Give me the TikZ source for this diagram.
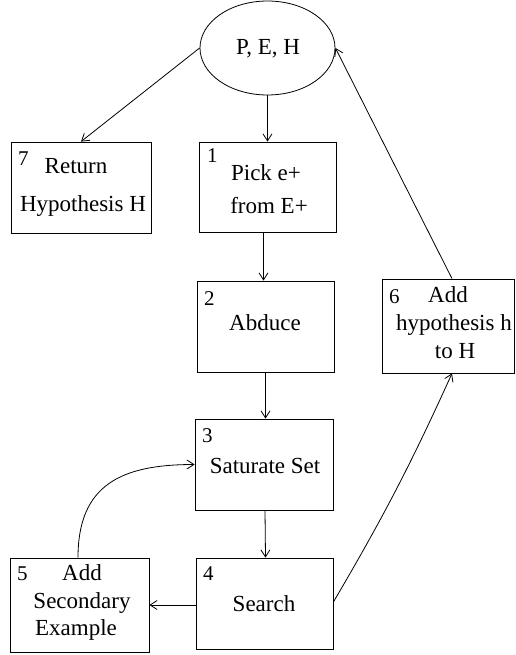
\documentclass[tikz,border=0pt]{standalone}
\usepackage{fontspec}
\setmainfont{Liberation Serif}
\usetikzlibrary{shapes.geometric,arrows.meta}
\tikzset{
  box/.style={draw, line width=0.8pt, inner sep=0pt, minimum width=#1},
  box/.default=137pt,
  txt/.style={anchor=base, inner sep=0pt, font=\fontsize{23}{27}\selectfont},
  num/.style={anchor=base west, inner sep=0pt, font=\fontsize{21}{25}\selectfont},
  conn/.style={line width=0.8pt, -{Straight Barb[length=7pt,width=9pt]}}
}
\begin{document}
\begin{tikzpicture}[x=1pt,y=-1pt]
\useasboundingbox (0,0) rectangle (515,655);
% shapes
\node[ellipse, draw, line width=0.8pt, minimum width=135pt, minimum height=94pt, inner sep=0pt] (e) at (267.5,48) {};
\node[box=140pt, minimum height=91pt] (b7) at (81,187.5) {};
\node[box=137pt, minimum height=90pt] (b1) at (267.5,187) {};
\node[box=137pt, minimum height=91pt] (b2) at (265.5,326.5) {};
\node[box=132pt, minimum height=94pt] (b6) at (448,326) {};
\node[box=138pt, minimum height=91pt] (b3) at (264,464.5) {};
\node[box=137pt, minimum height=91pt] (b4) at (264.5,603.5) {};
\node[box=139pt, minimum height=94pt] (b5) at (79.5,605) {};
% texts
\node[txt] (te) at (268,55) {P, E, H};
\node[num] (n7) at (18,165) {7};
\node[txt] (t7a) at (76,174) {Return};
\node[txt] (t7b) at (83,211) {Hypothesis H};
\node[num] (n1) at (207,163) {1};
\node[txt] (t1a) at (266,180) {Pick e+};
\node[txt] (t1b) at (269,213) {from E+};
\node[num] (n2) at (204,305) {2};
\node[txt] (t2) at (265,330) {Abduce};
\node[num] (n6) at (389,303) {6};
\node[txt] (t6a) at (448,302) {Add};
\node[txt] (t6b) at (454,330) {hypothesis h};
\node[txt] (t6c) at (455,358) {to H};
\node[num] (n3) at (202,442) {3};
\node[txt] (t3) at (265,473) {Saturate Set};
\node[num] (n4) at (203,580) {4};
\node[txt] (t4) at (264,611) {Search};
\node[num] (n5) at (17,580) {5};
\node[txt] (t5a) at (82,580) {Add};
\node[txt] (t5b) at (82,608) {Secondary};
\node[txt] (t5c) at (76,635) {Example};
% connectors
\draw[conn] (e.west) -- (b7.north);
\draw[conn] (e.south) -- (b1.north);
\draw[conn] ([xshift=-4pt]b1.south) -- ([xshift=-2pt]b2.north);
\draw[conn] (b2.south) -- (b2.south |- b3.north);
\draw[conn] ([xshift=1pt]b3.south) -- ([xshift=1pt]b4.north);
\draw[conn] (b4.west |- b5.east) -- (b5.east);
\draw[conn] ([xshift=-1.5pt]b5.north) to[out=90,in=180,looseness=1.25] (b3.west);
\draw[conn] ([yshift=1.5pt]b4.east) to[bend right=3] ([xshift=4pt]b6.south);
\draw[conn] ([xshift=4pt]b6.north) -- (e.east);
\end{tikzpicture}
\end{document}
